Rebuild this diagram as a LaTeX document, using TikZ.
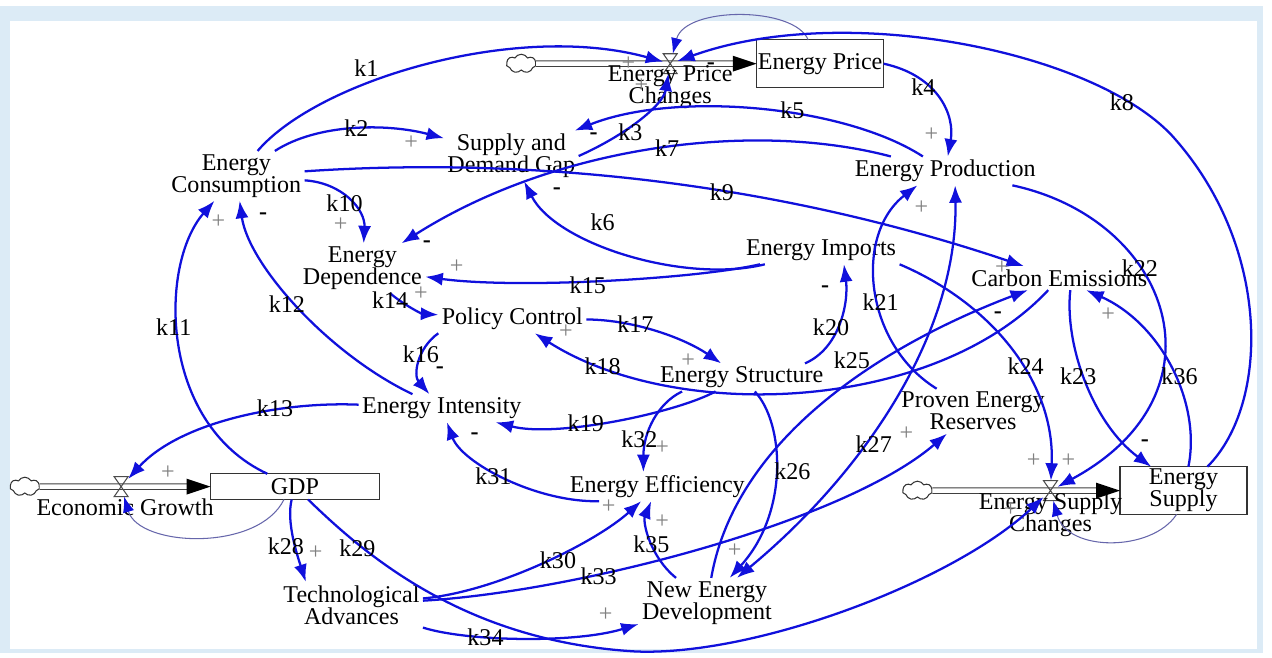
\documentclass[tikz,border=0pt]{standalone}
\usepackage{fontspec}
\setmainfont{Liberation Serif}
\newfontfamily\diagfont{Liberation Serif}
\usetikzlibrary{arrows.meta,calc,shapes.symbols}
\definecolor{framebg}{HTML}{DCEBF6}
\definecolor{linkblue}{HTML}{1010DC}
\begin{document}
\begin{tikzpicture}[x=0.02cm,y=-0.02cm,
  every node/.style={font=\diagfont\fontsize{13.8}{12.6}\selectfont, inner sep=0pt, outer sep=2pt, align=center},
  var/.style={},
  klabel/.style={},
  plussign/.style={text=black!50},
  minussign/.style={font=\diagfont\bfseries\fontsize{13.8}{12.6}\selectfont},
  stock/.style={draw=black!80, line width=0.7pt, outer sep=0pt, fill=white},
  valve/.style={minimum width=0.28cm, minimum height=0.4cm, outer sep=0pt},
  valveshape/.style={draw=black!70, line width=0.6pt},
  cloudy/.style={cloud, draw=black!80, cloud puffs=7, cloud puff arc=120, aspect=1.8, minimum width=0.6cm, minimum height=0.38cm, line width=0.6pt, outer sep=0pt},
  pipe/.style={draw=black!75, double=white, double distance=2.6pt, line width=0.6pt},
  conn/.style={draw=linkblue, line width=1.3pt, -{Latex[length=10pt,width=7.5pt]}},
  selfloop/.style={draw=black!55!blue!60, line width=0.6pt, -{Latex[length=9pt,width=6.5pt,color=linkblue]}}
]
% background and frame
\fill[framebg] (0,0) rectangle (1272,652);
\fill[white] (10,15) rectangle (1266,648);

% stocks
\node[stock, minimum width=2.56cm, minimum height=0.96cm] (ept) at (826,58) {Energy Price};
\node[stock, minimum width=3.4cm, minimum height=0.52cm] (gdp) at (297,484) {GDP};
\node[stock, minimum width=2.56cm, minimum height=0.96cm] (es) at (1192,488) {Energy\\Supply};

% clouds
\node[cloudy] (cl1) at (525,58) {};
\node[cloudy] (cl2) at (25,484) {};
\node[cloudy] (cl3) at (924,488) {};

% valves
\node[valve] (epv) at (675,58) {};
\node[valve] (egv) at (122,484) {};
\node[valve] (esv) at (1058,488) {};

% pipes
\draw[pipe] (cl1.east) -- ($(ept.west)+(-20,0)$);
\fill[black] (ept.west) -- ++(-24,-8) -- ++(0,16) -- cycle;
\draw[pipe] (cl2.east) -- ($(gdp.west)+(-20,0)$);
\fill[black] (gdp.west) -- ++(-24,-8) -- ++(0,16) -- cycle;
\draw[pipe] (cl3.east) -- ($(es.west)+(-20,0)$);
\fill[black] (es.west) -- ++(-24,-8) -- ++(0,16) -- cycle;
\foreach \v in {epv,egv,esv}{
  \draw[valveshape] (\v.north west) -- (\v.north east) -- (\v.south west) -- (\v.south east) -- cycle;
}

% valve labels
\node (eplbl) at (675,82) {Energy Price\\Changes};
\node (eglbl) at (126,505) {Economic Growth};
\node (eslbl) at (1058,512) {Energy Supply\\Changes};

% variables
\node[var] (prod) at (952,166) {Energy Production};
\node[var] (gap) at (515,151) {Supply and\\Demand Gap};
\node[var] (cons) at (238,171) {Energy\\Consumption};
\node[var] (dep) at (365,264) {Energy\\Dependence};
\node[var] (imp) at (827,246) {Energy Imports};
\node[var] (carb) at (1067,274) {Carbon Emissions};
\node[var] (pol) at (516,315) {Policy Control};
\node[var] (str) at (747,374) {Energy Structure};
\node[var] (int) at (445,405) {Energy Intensity};
\node[var] (res) at (980,408) {Proven Energy\\Reserves};
\node[var] (eff) at (662,484) {Energy Efficiency};
\node[var] (tech) at (354,603) {Technological\\Advances};
\node[var] (ned) at (712,601) {New Energy\\Development};

% self loops
\draw[selfloop] ($(ept.north)+(-12,0)$) .. controls (800,0) and (690,0) .. (epv);
\draw[selfloop] ($(gdp.south)+(-11,0)$) .. controls (260,550) and (140,545) .. (egv);
\draw[selfloop] ($(es.south)+(-7,0)$) .. controls (1160,550) and (1075,550) .. (esv);

% links
\draw[conn] (cons) .. controls (320,75) and (520,15) .. (epv); % k1
\draw[conn] (cons) .. controls (320,118) and (390,118) .. (gap); % k2
\draw[conn] (gap.east) .. controls (630,130) and (668,100) .. (epv); % k3
\draw[conn] (ept.east) .. controls (945,70) and (962,110) .. (prod); % k4
\draw[conn] (prod) .. controls (850,100) and (680,85) .. (gap); % k5
\draw[conn] (imp) .. controls (690,280) and (560,240) .. (gap); % k6
\draw[conn] (prod) .. controls (760,115) and (560,140) .. (dep); % k7
\draw[conn] (es) .. controls (1280,400) and (1280,240) .. (1180,130) .. controls (1100,45) and (850,-5) .. (epv); % k8
\draw[conn] (cons) .. controls (552,150) and (797,183) .. (carb); % k9
\draw[conn] (cons) .. controls (345,178) and (368,205) .. (dep); % k10
\draw[conn] (gdp) .. controls (160,420) and (160,260) .. (cons); % k11
\draw[conn] (int) .. controls (330,350) and (250,260) .. (cons); % k12
\draw[conn] (int) .. controls (280,398) and (180,420) .. (egv); % k13
\draw[conn] (dep) .. controls (405,300) and (425,310) .. (pol); % k14
\draw[conn] (imp) .. controls (700,275) and (520,285) .. (dep); % k15
\draw[conn] (pol.south west) .. controls (420,345) and (416,372) .. (int); % k16
\draw[conn] (pol) .. controls (640,316) and (690,335) .. (str); % k17
\draw[conn] (carb) .. controls (940,410) and (680,420) .. (pol); % k18
\draw[conn] (str) .. controls (680,410) and (560,435) .. (int); % k19
\draw[conn] ($(str.north east)+(-22,0)$) .. controls (845,345) and (855,300) .. ($(imp.south)+(23,0)$); % k20
\draw[conn] (res) .. controls (870,340) and (860,230) .. ($(prod.south)+(-28,0)$); % k21
\draw[conn] (prod) .. controls (1180,215) and (1240,390) .. (esv); % k22
\draw[conn] ($(carb.south)+(11,0)$) .. controls (1072,340) and (1100,420) .. (es); % k23
\draw[conn] (imp.south east) .. controls (1000,300) and (1063,380) .. (esv); % k24
\draw[conn] (ned) .. controls (740,440) and (880,345) .. (carb); % k25
\draw[conn] (str) .. controls (790,420) and (795,510) .. (ned); % k26
\draw[conn, {Latex[length=10pt,width=7.5pt]}-{Latex[length=10pt,width=7.5pt]}] (ned) .. controls (870,470) and (965,330) .. ($(prod.south)+(10,0)$); % k27
\draw[conn] (gdp) .. controls (288,520) and (300,555) .. ($(tech.north west)+(26,0)$); % k28
\draw[conn] (gdp) .. controls (370,555) and (470,640) .. (640,650) .. controls (760,655) and (960,580) .. (esv); % k29
\draw[conn] (tech) .. controls (500,590) and (600,540) .. (eff); % k30
\draw[conn] ($(eff.south west)+(33,0)$) .. controls (540,500) and (465,460) .. (int); % k31
\draw[conn] ($(str.south)+(-60,0)$) .. controls (662,400) and (648,430) .. ($(eff.north)+(-14,0)$); % k32
\draw[conn] (tech) .. controls (580,590) and (850,520) .. (res); % k33
\draw[conn] (tech) .. controls (470,640) and (580,642) .. (ned); % k34
\draw[conn] (ned) .. controls (655,555) and (647,520) .. (eff); % k35
\draw[conn] (es) .. controls (1210,400) and (1170,320) .. (carb); % k36

% link labels
\foreach \n/\x/\y in {1/369/62,2/359/123,3/635/127,4/930/82,5/798/105,6/607/218,7/672/143,8/1130/97,9/727/188,10/347/199,11/175/323,12/289/300,13/277/405,14/393/296,15/592/281,16/424/351,17/640/320,18/607/363,19/590/420,20/837/323,21/887/298,22/1148/264,23/1086/373,24/1033/363,25/858/357,26/798/469,27/880/441,28/288/544,29/360/546,30/562/558,31/497/474,32/644/436,33/603/574,34/489/636,35/656/542,36/1188/373}{
  \node[klabel] (lab\n) at (\x,\y) {k\n};
}

% polarity signs
\foreach \i/\x/\y in {a/633/58,b/646/80,c/414/138,d/938/130,e/1009/263,f/343/220,g/220/217,h/169/470,i/424/290,j/460/262,k/693/357,l/570/328,m/928/203,n/1076/458,o/1041/458,p/740/549,q/913/431,r/318/551,s/613/504,t/667/445,u/610/613,v/667/519,w/1116/311,x/1018/507}{
  \node[plussign] (plus\i) at (\x,\y) {+};
}
\foreach \i/\x/\y in {a/716/60,b/598/131,c/561/186,d/430/240,e/265/212,f/443/367,g/831/285,h/1153/440,i/1005/311,j/478/433}{
  \node[minussign] (minus\i) at (\x,\y) {-};
}
\end{tikzpicture}
\end{document}
